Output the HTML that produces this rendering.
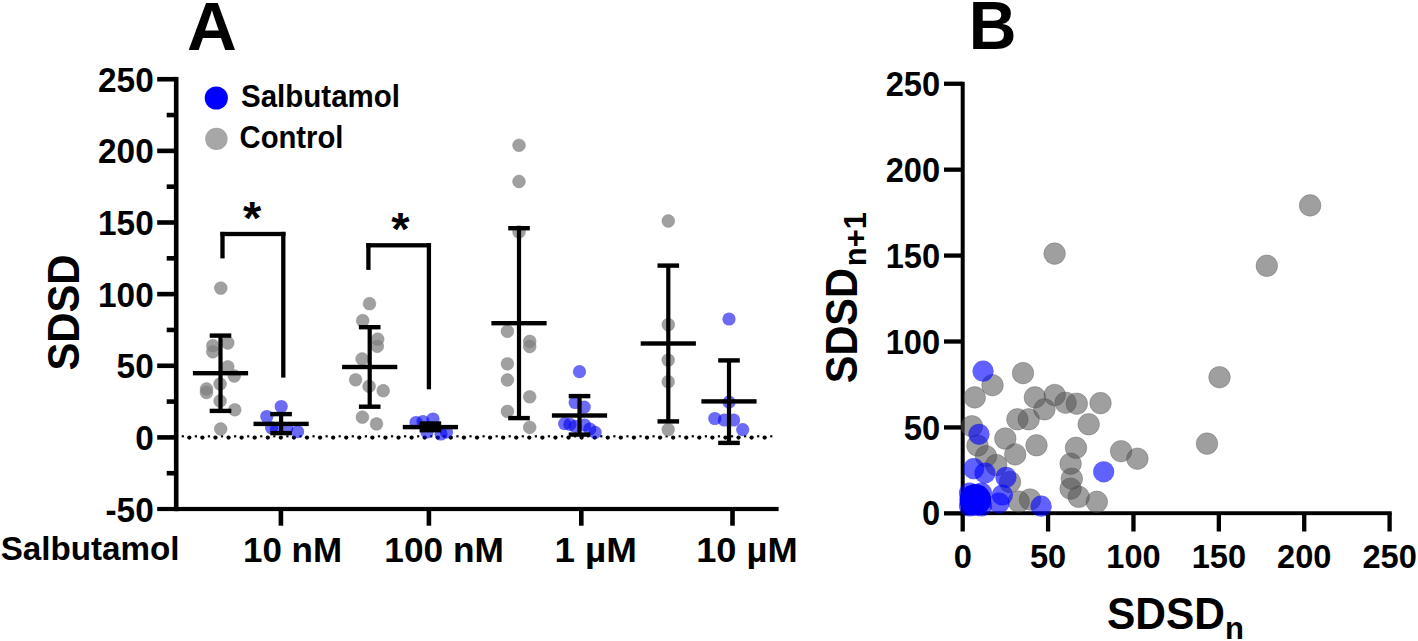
<!DOCTYPE html>
<html><head><meta charset="utf-8"><style>
html,body{margin:0;padding:0;background:#fff;}
svg{display:block;}
</style></head><body>
<svg width="1418" height="641" viewBox="0 0 1418 641">
<rect width="1418" height="641" fill="#fff"/>
<rect x="173.9" y="76.9" width="4.6" height="434.3" fill="#000"/>
<rect x="157.2" y="506.9" width="621.4" height="4.2" fill="#000"/>
<rect x="157.2" y="76.93" width="19" height="4.6" fill="#000"/>
<rect x="157.2" y="148.57" width="19" height="4.6" fill="#000"/>
<rect x="157.2" y="220.20" width="19" height="4.6" fill="#000"/>
<rect x="157.2" y="291.83" width="19" height="4.6" fill="#000"/>
<rect x="157.2" y="363.47" width="19" height="4.6" fill="#000"/>
<rect x="157.2" y="435.10" width="19" height="4.6" fill="#000"/>
<rect x="166.7" y="112.75" width="10" height="4.6" fill="#000"/>
<rect x="166.7" y="184.38" width="10" height="4.6" fill="#000"/>
<rect x="166.7" y="256.02" width="10" height="4.6" fill="#000"/>
<rect x="166.7" y="327.65" width="10" height="4.6" fill="#000"/>
<rect x="166.7" y="399.28" width="10" height="4.6" fill="#000"/>
<rect x="166.7" y="470.92" width="10" height="4.6" fill="#000"/>
<text transform="translate(153.7,91.73) scale(0.94,1)" font-family="Liberation Sans, sans-serif" font-weight="bold" font-size="35.5" text-anchor="end">250</text>
<text transform="translate(153.7,163.37) scale(0.94,1)" font-family="Liberation Sans, sans-serif" font-weight="bold" font-size="35.5" text-anchor="end">200</text>
<text transform="translate(153.7,235.00) scale(0.94,1)" font-family="Liberation Sans, sans-serif" font-weight="bold" font-size="35.5" text-anchor="end">150</text>
<text transform="translate(153.7,306.63) scale(0.94,1)" font-family="Liberation Sans, sans-serif" font-weight="bold" font-size="35.5" text-anchor="end">100</text>
<text transform="translate(153.7,378.27) scale(0.94,1)" font-family="Liberation Sans, sans-serif" font-weight="bold" font-size="35.5" text-anchor="end">50</text>
<text transform="translate(153.7,449.90) scale(0.94,1)" font-family="Liberation Sans, sans-serif" font-weight="bold" font-size="35.5" text-anchor="end">0</text>
<text transform="translate(153.7,521.53) scale(0.94,1)" font-family="Liberation Sans, sans-serif" font-weight="bold" font-size="35.5" text-anchor="end">-50</text>
<rect x="278.60" y="509" width="4.6" height="16.7" fill="#000"/>
<rect x="426.60" y="509" width="4.6" height="16.7" fill="#000"/>
<rect x="579.00" y="509" width="4.6" height="16.7" fill="#000"/>
<rect x="730.20" y="509" width="4.6" height="16.7" fill="#000"/>
<text x="0.7" y="560.3" font-family="Liberation Sans, sans-serif" font-weight="bold" font-size="33.5" textLength="178.8" lengthAdjust="spacingAndGlyphs">Salbutamol</text>
<text x="243" y="562.4" font-family="Liberation Sans, sans-serif" font-weight="bold" font-size="34.5" textLength="99" lengthAdjust="spacingAndGlyphs">10 nM</text>
<text x="384.3" y="562.4" font-family="Liberation Sans, sans-serif" font-weight="bold" font-size="34.5" textLength="119.5" lengthAdjust="spacingAndGlyphs">100 nM</text>
<text x="554.4" y="562.4" font-family="Liberation Sans, sans-serif" font-weight="bold" font-size="34.5" textLength="82.5" lengthAdjust="spacingAndGlyphs">1 µM</text>
<text x="696.2" y="562.4" font-family="Liberation Sans, sans-serif" font-weight="bold" font-size="34.5" textLength="101.5" lengthAdjust="spacingAndGlyphs">10 µM</text>
<text transform="translate(79,370.6) rotate(-90)" x="0" y="0" font-family="Liberation Sans, sans-serif" font-weight="bold" font-size="43.5" textLength="116" lengthAdjust="spacingAndGlyphs">SDSD</text>
<text x="187" y="49.7" font-family="Liberation Sans, sans-serif" font-weight="bold" font-size="69">A</text>
<circle cx="216.3" cy="98" r="11.6" fill="#0000ff"/>
<circle cx="216.4" cy="138.9" r="11.2" fill="#a8a7a8"/>
<text x="241" y="107.3" font-family="Liberation Sans, sans-serif" font-weight="bold" font-size="30.5" textLength="159" lengthAdjust="spacingAndGlyphs">Salbutamol</text>
<text x="239.5" y="148" font-family="Liberation Sans, sans-serif" font-weight="bold" font-size="30.5" textLength="104" lengthAdjust="spacingAndGlyphs">Control</text>
<circle cx="189.30" cy="437.6" r="2.15" fill="#000"/>
<circle cx="202.38" cy="437.6" r="2.15" fill="#000"/>
<circle cx="215.45" cy="437.6" r="2.15" fill="#000"/>
<circle cx="228.53" cy="437.6" r="2.15" fill="#000"/>
<circle cx="241.61" cy="437.6" r="2.15" fill="#000"/>
<circle cx="254.69" cy="437.6" r="2.15" fill="#000"/>
<circle cx="267.76" cy="437.6" r="2.15" fill="#000"/>
<circle cx="280.84" cy="437.6" r="2.15" fill="#000"/>
<circle cx="293.92" cy="437.6" r="2.15" fill="#000"/>
<circle cx="306.99" cy="437.6" r="2.15" fill="#000"/>
<circle cx="320.07" cy="437.6" r="2.15" fill="#000"/>
<circle cx="333.15" cy="437.6" r="2.15" fill="#000"/>
<circle cx="346.22" cy="437.6" r="2.15" fill="#000"/>
<circle cx="359.30" cy="437.6" r="2.15" fill="#000"/>
<circle cx="372.38" cy="437.6" r="2.15" fill="#000"/>
<circle cx="385.46" cy="437.6" r="2.15" fill="#000"/>
<circle cx="398.53" cy="437.6" r="2.15" fill="#000"/>
<circle cx="411.61" cy="437.6" r="2.15" fill="#000"/>
<circle cx="424.69" cy="437.6" r="2.15" fill="#000"/>
<circle cx="437.76" cy="437.6" r="2.15" fill="#000"/>
<circle cx="450.84" cy="437.6" r="2.15" fill="#000"/>
<circle cx="463.92" cy="437.6" r="2.15" fill="#000"/>
<circle cx="476.99" cy="437.6" r="2.15" fill="#000"/>
<circle cx="490.07" cy="437.6" r="2.15" fill="#000"/>
<circle cx="503.15" cy="437.6" r="2.15" fill="#000"/>
<circle cx="516.23" cy="437.6" r="2.15" fill="#000"/>
<circle cx="529.30" cy="437.6" r="2.15" fill="#000"/>
<circle cx="542.38" cy="437.6" r="2.15" fill="#000"/>
<circle cx="555.46" cy="437.6" r="2.15" fill="#000"/>
<circle cx="568.53" cy="437.6" r="2.15" fill="#000"/>
<circle cx="581.61" cy="437.6" r="2.15" fill="#000"/>
<circle cx="594.69" cy="437.6" r="2.15" fill="#000"/>
<circle cx="607.76" cy="437.6" r="2.15" fill="#000"/>
<circle cx="620.84" cy="437.6" r="2.15" fill="#000"/>
<circle cx="633.92" cy="437.6" r="2.15" fill="#000"/>
<circle cx="647.00" cy="437.6" r="2.15" fill="#000"/>
<circle cx="660.07" cy="437.6" r="2.15" fill="#000"/>
<circle cx="673.15" cy="437.6" r="2.15" fill="#000"/>
<circle cx="686.23" cy="437.6" r="2.15" fill="#000"/>
<circle cx="699.30" cy="437.6" r="2.15" fill="#000"/>
<circle cx="712.38" cy="437.6" r="2.15" fill="#000"/>
<circle cx="725.46" cy="437.6" r="2.15" fill="#000"/>
<circle cx="738.53" cy="437.6" r="2.15" fill="#000"/>
<circle cx="751.61" cy="437.6" r="2.15" fill="#000"/>
<circle cx="764.69" cy="437.6" r="2.15" fill="#000"/>
<rect x="181.70" y="435.2" width="2.2" height="2.2" fill="#000"/>
<rect x="194.78" y="435.2" width="2.2" height="2.2" fill="#000"/>
<rect x="207.85" y="435.2" width="2.2" height="2.2" fill="#000"/>
<rect x="220.93" y="435.2" width="2.2" height="2.2" fill="#000"/>
<rect x="234.01" y="435.2" width="2.2" height="2.2" fill="#000"/>
<rect x="247.09" y="435.2" width="2.2" height="2.2" fill="#000"/>
<rect x="260.16" y="435.2" width="2.2" height="2.2" fill="#000"/>
<rect x="273.24" y="435.2" width="2.2" height="2.2" fill="#000"/>
<rect x="286.32" y="435.2" width="2.2" height="2.2" fill="#000"/>
<rect x="299.39" y="435.2" width="2.2" height="2.2" fill="#000"/>
<rect x="312.47" y="435.2" width="2.2" height="2.2" fill="#000"/>
<rect x="325.55" y="435.2" width="2.2" height="2.2" fill="#000"/>
<rect x="338.62" y="435.2" width="2.2" height="2.2" fill="#000"/>
<rect x="351.70" y="435.2" width="2.2" height="2.2" fill="#000"/>
<rect x="364.78" y="435.2" width="2.2" height="2.2" fill="#000"/>
<rect x="377.86" y="435.2" width="2.2" height="2.2" fill="#000"/>
<rect x="390.93" y="435.2" width="2.2" height="2.2" fill="#000"/>
<rect x="404.01" y="435.2" width="2.2" height="2.2" fill="#000"/>
<rect x="417.09" y="435.2" width="2.2" height="2.2" fill="#000"/>
<rect x="430.16" y="435.2" width="2.2" height="2.2" fill="#000"/>
<rect x="443.24" y="435.2" width="2.2" height="2.2" fill="#000"/>
<rect x="456.32" y="435.2" width="2.2" height="2.2" fill="#000"/>
<rect x="469.39" y="435.2" width="2.2" height="2.2" fill="#000"/>
<rect x="482.47" y="435.2" width="2.2" height="2.2" fill="#000"/>
<rect x="495.55" y="435.2" width="2.2" height="2.2" fill="#000"/>
<rect x="508.62" y="435.2" width="2.2" height="2.2" fill="#000"/>
<rect x="521.70" y="435.2" width="2.2" height="2.2" fill="#000"/>
<rect x="534.78" y="435.2" width="2.2" height="2.2" fill="#000"/>
<rect x="547.86" y="435.2" width="2.2" height="2.2" fill="#000"/>
<rect x="560.93" y="435.2" width="2.2" height="2.2" fill="#000"/>
<rect x="574.01" y="435.2" width="2.2" height="2.2" fill="#000"/>
<rect x="587.09" y="435.2" width="2.2" height="2.2" fill="#000"/>
<rect x="600.16" y="435.2" width="2.2" height="2.2" fill="#000"/>
<rect x="613.24" y="435.2" width="2.2" height="2.2" fill="#000"/>
<rect x="626.32" y="435.2" width="2.2" height="2.2" fill="#000"/>
<rect x="639.39" y="435.2" width="2.2" height="2.2" fill="#000"/>
<rect x="652.47" y="435.2" width="2.2" height="2.2" fill="#000"/>
<rect x="665.55" y="435.2" width="2.2" height="2.2" fill="#000"/>
<rect x="678.63" y="435.2" width="2.2" height="2.2" fill="#000"/>
<rect x="691.70" y="435.2" width="2.2" height="2.2" fill="#000"/>
<rect x="704.78" y="435.2" width="2.2" height="2.2" fill="#000"/>
<rect x="717.86" y="435.2" width="2.2" height="2.2" fill="#000"/>
<rect x="730.93" y="435.2" width="2.2" height="2.2" fill="#000"/>
<rect x="744.01" y="435.2" width="2.2" height="2.2" fill="#000"/>
<rect x="757.09" y="435.2" width="2.2" height="2.2" fill="#000"/>
<rect x="770.17" y="435.2" width="2.2" height="2.2" fill="#000"/>
<circle cx="220.8" cy="288.1" r="6.4" fill="#808080" fill-opacity="0.75" stroke="#808080" stroke-opacity="0.5" stroke-width="0.8"/>
<circle cx="227.8" cy="343" r="6.4" fill="#808080" fill-opacity="0.75" stroke="#808080" stroke-opacity="0.5" stroke-width="0.8"/>
<circle cx="212.8" cy="345.7" r="6.4" fill="#808080" fill-opacity="0.75" stroke="#808080" stroke-opacity="0.5" stroke-width="0.8"/>
<circle cx="212.8" cy="351.8" r="6.4" fill="#808080" fill-opacity="0.75" stroke="#808080" stroke-opacity="0.5" stroke-width="0.8"/>
<circle cx="227.8" cy="366.8" r="6.4" fill="#808080" fill-opacity="0.75" stroke="#808080" stroke-opacity="0.5" stroke-width="0.8"/>
<circle cx="234.3" cy="376" r="6.4" fill="#808080" fill-opacity="0.75" stroke="#808080" stroke-opacity="0.5" stroke-width="0.8"/>
<circle cx="220.1" cy="384" r="6.4" fill="#808080" fill-opacity="0.75" stroke="#808080" stroke-opacity="0.5" stroke-width="0.8"/>
<circle cx="206.5" cy="389" r="6.4" fill="#808080" fill-opacity="0.75" stroke="#808080" stroke-opacity="0.5" stroke-width="0.8"/>
<circle cx="206.5" cy="392.5" r="6.4" fill="#808080" fill-opacity="0.75" stroke="#808080" stroke-opacity="0.5" stroke-width="0.8"/>
<circle cx="220.1" cy="401" r="6.4" fill="#808080" fill-opacity="0.75" stroke="#808080" stroke-opacity="0.5" stroke-width="0.8"/>
<circle cx="234.8" cy="409.8" r="6.4" fill="#808080" fill-opacity="0.75" stroke="#808080" stroke-opacity="0.5" stroke-width="0.8"/>
<circle cx="220.7" cy="429" r="6.4" fill="#808080" fill-opacity="0.75" stroke="#808080" stroke-opacity="0.5" stroke-width="0.8"/>
<circle cx="281.2" cy="406.5" r="6.6" fill="#0000f0" fill-opacity="0.58"/>
<circle cx="266.8" cy="416.5" r="6.6" fill="#0000f0" fill-opacity="0.58"/>
<circle cx="271.5" cy="427.8" r="6.6" fill="#0000f0" fill-opacity="0.58"/>
<circle cx="276.5" cy="428.5" r="6.6" fill="#0000f0" fill-opacity="0.58"/>
<circle cx="286.7" cy="428.5" r="6.6" fill="#0000f0" fill-opacity="0.58"/>
<circle cx="297.6" cy="431.7" r="6.6" fill="#0000f0" fill-opacity="0.58"/>
<circle cx="369.5" cy="303.7" r="6.4" fill="#808080" fill-opacity="0.75" stroke="#808080" stroke-opacity="0.5" stroke-width="0.8"/>
<circle cx="362.7" cy="320.6" r="6.4" fill="#808080" fill-opacity="0.75" stroke="#808080" stroke-opacity="0.5" stroke-width="0.8"/>
<circle cx="377.7" cy="339.2" r="6.4" fill="#808080" fill-opacity="0.75" stroke="#808080" stroke-opacity="0.5" stroke-width="0.8"/>
<circle cx="377.3" cy="346.3" r="6.4" fill="#808080" fill-opacity="0.75" stroke="#808080" stroke-opacity="0.5" stroke-width="0.8"/>
<circle cx="362.1" cy="359" r="6.4" fill="#808080" fill-opacity="0.75" stroke="#808080" stroke-opacity="0.5" stroke-width="0.8"/>
<circle cx="355.6" cy="379.8" r="6.4" fill="#808080" fill-opacity="0.75" stroke="#808080" stroke-opacity="0.5" stroke-width="0.8"/>
<circle cx="369.1" cy="386.3" r="6.4" fill="#808080" fill-opacity="0.75" stroke="#808080" stroke-opacity="0.5" stroke-width="0.8"/>
<circle cx="383.2" cy="390.7" r="6.4" fill="#808080" fill-opacity="0.75" stroke="#808080" stroke-opacity="0.5" stroke-width="0.8"/>
<circle cx="362.4" cy="417.2" r="6.4" fill="#808080" fill-opacity="0.75" stroke="#808080" stroke-opacity="0.5" stroke-width="0.8"/>
<circle cx="376.5" cy="423.9" r="6.4" fill="#808080" fill-opacity="0.75" stroke="#808080" stroke-opacity="0.5" stroke-width="0.8"/>
<circle cx="416" cy="422.5" r="6.6" fill="#0000f0" fill-opacity="0.58"/>
<circle cx="423" cy="421.5" r="6.6" fill="#0000f0" fill-opacity="0.58"/>
<circle cx="433" cy="419" r="6.6" fill="#0000f0" fill-opacity="0.58"/>
<circle cx="427" cy="432" r="6.6" fill="#0000f0" fill-opacity="0.58"/>
<circle cx="441" cy="434" r="6.6" fill="#0000f0" fill-opacity="0.58"/>
<circle cx="446.5" cy="432" r="6.6" fill="#0000f0" fill-opacity="0.58"/>
<circle cx="519" cy="145.3" r="6.4" fill="#808080" fill-opacity="0.75" stroke="#808080" stroke-opacity="0.5" stroke-width="0.8"/>
<circle cx="519" cy="181.5" r="6.4" fill="#808080" fill-opacity="0.75" stroke="#808080" stroke-opacity="0.5" stroke-width="0.8"/>
<circle cx="519" cy="232" r="6.4" fill="#808080" fill-opacity="0.75" stroke="#808080" stroke-opacity="0.5" stroke-width="0.8"/>
<circle cx="507.4" cy="331.3" r="6.4" fill="#808080" fill-opacity="0.75" stroke="#808080" stroke-opacity="0.5" stroke-width="0.8"/>
<circle cx="529.7" cy="341.4" r="6.4" fill="#808080" fill-opacity="0.75" stroke="#808080" stroke-opacity="0.5" stroke-width="0.8"/>
<circle cx="529.7" cy="346.5" r="6.4" fill="#808080" fill-opacity="0.75" stroke="#808080" stroke-opacity="0.5" stroke-width="0.8"/>
<circle cx="507.4" cy="363.8" r="6.4" fill="#808080" fill-opacity="0.75" stroke="#808080" stroke-opacity="0.5" stroke-width="0.8"/>
<circle cx="507.4" cy="380" r="6.4" fill="#808080" fill-opacity="0.75" stroke="#808080" stroke-opacity="0.5" stroke-width="0.8"/>
<circle cx="529.7" cy="396.8" r="6.4" fill="#808080" fill-opacity="0.75" stroke="#808080" stroke-opacity="0.5" stroke-width="0.8"/>
<circle cx="507.4" cy="411.4" r="6.4" fill="#808080" fill-opacity="0.75" stroke="#808080" stroke-opacity="0.5" stroke-width="0.8"/>
<circle cx="529.7" cy="427.3" r="6.4" fill="#808080" fill-opacity="0.75" stroke="#808080" stroke-opacity="0.5" stroke-width="0.8"/>
<circle cx="579.5" cy="371.7" r="6.6" fill="#0000f0" fill-opacity="0.58"/>
<circle cx="575.2" cy="402.5" r="6.6" fill="#0000f0" fill-opacity="0.58"/>
<circle cx="584.2" cy="407.1" r="6.6" fill="#0000f0" fill-opacity="0.58"/>
<circle cx="564.6" cy="423.7" r="6.6" fill="#0000f0" fill-opacity="0.58"/>
<circle cx="569.9" cy="424.4" r="6.6" fill="#0000f0" fill-opacity="0.58"/>
<circle cx="575.2" cy="426.4" r="6.6" fill="#0000f0" fill-opacity="0.58"/>
<circle cx="584.5" cy="425" r="6.6" fill="#0000f0" fill-opacity="0.58"/>
<circle cx="589.8" cy="429" r="6.6" fill="#0000f0" fill-opacity="0.58"/>
<circle cx="595.1" cy="432.3" r="6.6" fill="#0000f0" fill-opacity="0.58"/>
<circle cx="668.3" cy="221" r="6.4" fill="#808080" fill-opacity="0.75" stroke="#808080" stroke-opacity="0.5" stroke-width="0.8"/>
<circle cx="668.3" cy="324.6" r="6.4" fill="#808080" fill-opacity="0.75" stroke="#808080" stroke-opacity="0.5" stroke-width="0.8"/>
<circle cx="668.2" cy="360.1" r="6.4" fill="#808080" fill-opacity="0.75" stroke="#808080" stroke-opacity="0.5" stroke-width="0.8"/>
<circle cx="668.2" cy="381.7" r="6.4" fill="#808080" fill-opacity="0.75" stroke="#808080" stroke-opacity="0.5" stroke-width="0.8"/>
<circle cx="668.2" cy="429.6" r="6.4" fill="#808080" fill-opacity="0.75" stroke="#808080" stroke-opacity="0.5" stroke-width="0.8"/>
<circle cx="729" cy="319" r="6.6" fill="#0000f0" fill-opacity="0.58"/>
<circle cx="729" cy="402.2" r="6.6" fill="#0000f0" fill-opacity="0.58"/>
<circle cx="714.8" cy="418.5" r="6.6" fill="#0000f0" fill-opacity="0.58"/>
<circle cx="724.4" cy="420" r="6.6" fill="#0000f0" fill-opacity="0.58"/>
<circle cx="733.6" cy="420" r="6.6" fill="#0000f0" fill-opacity="0.58"/>
<circle cx="742.7" cy="429.6" r="6.6" fill="#0000f0" fill-opacity="0.58"/>
<rect x="218.40" y="335.60" width="4.2" height="75.30" fill="#000"/>
<rect x="209.70" y="333.40" width="21.6" height="4.4" fill="#000"/>
<rect x="209.70" y="408.70" width="21.6" height="4.4" fill="#000"/>
<rect x="192.90" y="371.00" width="55.2" height="4.4" fill="#000"/>
<rect x="279.00" y="414.10" width="4.2" height="19.00" fill="#000"/>
<rect x="270.30" y="411.90" width="21.6" height="4.4" fill="#000"/>
<rect x="270.30" y="430.90" width="21.6" height="4.4" fill="#000"/>
<rect x="253.50" y="421.70" width="55.2" height="4.4" fill="#000"/>
<rect x="367.60" y="327.20" width="4.2" height="79.50" fill="#000"/>
<rect x="358.90" y="325.00" width="21.6" height="4.4" fill="#000"/>
<rect x="358.90" y="404.50" width="21.6" height="4.4" fill="#000"/>
<rect x="342.10" y="364.80" width="55.2" height="4.4" fill="#000"/>
<rect x="428.30" y="423.50" width="4.2" height="6.70" fill="#000"/>
<rect x="419.60" y="421.30" width="21.6" height="4.4" fill="#000"/>
<rect x="419.60" y="428.00" width="21.6" height="4.4" fill="#000"/>
<rect x="402.80" y="424.90" width="55.2" height="4.4" fill="#000"/>
<rect x="516.90" y="228.20" width="4.2" height="189.90" fill="#000"/>
<rect x="508.20" y="226.00" width="21.6" height="4.4" fill="#000"/>
<rect x="508.20" y="415.90" width="21.6" height="4.4" fill="#000"/>
<rect x="491.40" y="321.00" width="55.2" height="4.4" fill="#000"/>
<rect x="577.40" y="396.10" width="4.2" height="38.50" fill="#000"/>
<rect x="568.70" y="393.90" width="21.6" height="4.4" fill="#000"/>
<rect x="568.70" y="432.40" width="21.6" height="4.4" fill="#000"/>
<rect x="551.90" y="413.30" width="55.2" height="4.4" fill="#000"/>
<rect x="666.20" y="265.60" width="4.2" height="155.80" fill="#000"/>
<rect x="657.50" y="263.40" width="21.6" height="4.4" fill="#000"/>
<rect x="657.50" y="419.20" width="21.6" height="4.4" fill="#000"/>
<rect x="640.70" y="341.30" width="55.2" height="4.4" fill="#000"/>
<rect x="726.90" y="360.40" width="4.2" height="82.50" fill="#000"/>
<rect x="718.20" y="358.20" width="21.6" height="4.4" fill="#000"/>
<rect x="718.20" y="440.70" width="21.6" height="4.4" fill="#000"/>
<rect x="701.40" y="399.20" width="55.2" height="4.4" fill="#000"/>
<rect x="220.35" y="231.85" width="65.10" height="4.3" fill="#000"/>
<rect x="220.35" y="231.85" width="4.3" height="26.55" fill="#000"/>
<rect x="281.15" y="231.85" width="4.3" height="145.75" fill="#000"/>
<text x="252.2" y="233.5" font-family="Liberation Sans, sans-serif" font-weight="bold" font-size="47" text-anchor="middle">*</text>
<rect x="366.25" y="243.15" width="64.80" height="4.3" fill="#000"/>
<rect x="366.25" y="243.15" width="4.3" height="26.75" fill="#000"/>
<rect x="426.75" y="243.15" width="4.3" height="146.15" fill="#000"/>
<text x="400.3" y="244.9" font-family="Liberation Sans, sans-serif" font-weight="bold" font-size="47" text-anchor="middle">*</text>
<rect x="960.7" y="81.7" width="4.0" height="433.5" fill="#000"/>
<rect x="960.7" y="511.25" width="431.0" height="3.9" fill="#000"/>
<rect x="944.0" y="81.60" width="18" height="4.3" fill="#000"/>
<text transform="translate(940.1,95.85) scale(0.955,1)" font-family="Liberation Sans, sans-serif" font-weight="bold" font-size="34.2" text-anchor="end">250</text>
<rect x="944.0" y="167.52" width="18" height="4.3" fill="#000"/>
<text transform="translate(940.1,181.77) scale(0.955,1)" font-family="Liberation Sans, sans-serif" font-weight="bold" font-size="34.2" text-anchor="end">200</text>
<rect x="944.0" y="253.44" width="18" height="4.3" fill="#000"/>
<text transform="translate(940.1,267.69) scale(0.955,1)" font-family="Liberation Sans, sans-serif" font-weight="bold" font-size="34.2" text-anchor="end">150</text>
<rect x="944.0" y="339.36" width="18" height="4.3" fill="#000"/>
<text transform="translate(940.1,353.61) scale(0.955,1)" font-family="Liberation Sans, sans-serif" font-weight="bold" font-size="34.2" text-anchor="end">100</text>
<rect x="944.0" y="425.28" width="18" height="4.3" fill="#000"/>
<text transform="translate(940.1,439.53) scale(0.955,1)" font-family="Liberation Sans, sans-serif" font-weight="bold" font-size="34.2" text-anchor="end">50</text>
<rect x="944.0" y="511.20" width="18" height="4.3" fill="#000"/>
<text transform="translate(940.1,525.45) scale(0.955,1)" font-family="Liberation Sans, sans-serif" font-weight="bold" font-size="34.2" text-anchor="end">0</text>
<rect x="960.55" y="513" width="4.3" height="18.5" fill="#000"/>
<text x="962.70" y="568.4" font-family="Liberation Sans, sans-serif" font-weight="bold" font-size="32.6" text-anchor="middle">0</text>
<rect x="1045.93" y="513" width="4.3" height="18.5" fill="#000"/>
<text x="1048.08" y="568.4" font-family="Liberation Sans, sans-serif" font-weight="bold" font-size="32.6" text-anchor="middle">50</text>
<rect x="1131.31" y="513" width="4.3" height="18.5" fill="#000"/>
<text x="1133.46" y="568.4" font-family="Liberation Sans, sans-serif" font-weight="bold" font-size="32.6" text-anchor="middle">100</text>
<rect x="1216.69" y="513" width="4.3" height="18.5" fill="#000"/>
<text x="1218.84" y="568.4" font-family="Liberation Sans, sans-serif" font-weight="bold" font-size="32.6" text-anchor="middle">150</text>
<rect x="1302.07" y="513" width="4.3" height="18.5" fill="#000"/>
<text x="1304.22" y="568.4" font-family="Liberation Sans, sans-serif" font-weight="bold" font-size="32.6" text-anchor="middle">200</text>
<rect x="1387.45" y="513" width="4.3" height="18.5" fill="#000"/>
<text x="1389.60" y="568.4" font-family="Liberation Sans, sans-serif" font-weight="bold" font-size="32.6" text-anchor="middle">250</text>
<circle cx="992.5" cy="385.2" r="10.8" fill="#505050" fill-opacity="0.55" stroke="#505050" stroke-opacity="0.4" stroke-width="0.8"/>
<circle cx="974.7" cy="397.4" r="10.8" fill="#505050" fill-opacity="0.55" stroke="#505050" stroke-opacity="0.4" stroke-width="0.8"/>
<circle cx="1023" cy="373.1" r="10.8" fill="#505050" fill-opacity="0.55" stroke="#505050" stroke-opacity="0.4" stroke-width="0.8"/>
<circle cx="1034.9" cy="397.4" r="10.8" fill="#505050" fill-opacity="0.55" stroke="#505050" stroke-opacity="0.4" stroke-width="0.8"/>
<circle cx="1017.4" cy="419.3" r="10.8" fill="#505050" fill-opacity="0.55" stroke="#505050" stroke-opacity="0.4" stroke-width="0.8"/>
<circle cx="1028.7" cy="419.3" r="10.8" fill="#505050" fill-opacity="0.55" stroke="#505050" stroke-opacity="0.4" stroke-width="0.8"/>
<circle cx="971.9" cy="426.2" r="10.8" fill="#505050" fill-opacity="0.55" stroke="#505050" stroke-opacity="0.4" stroke-width="0.8"/>
<circle cx="1054.7" cy="395" r="10.8" fill="#505050" fill-opacity="0.55" stroke="#505050" stroke-opacity="0.4" stroke-width="0.8"/>
<circle cx="1065.6" cy="402.7" r="10.8" fill="#505050" fill-opacity="0.55" stroke="#505050" stroke-opacity="0.4" stroke-width="0.8"/>
<circle cx="1076.8" cy="403.7" r="10.8" fill="#505050" fill-opacity="0.55" stroke="#505050" stroke-opacity="0.4" stroke-width="0.8"/>
<circle cx="1100.5" cy="403.1" r="10.8" fill="#505050" fill-opacity="0.55" stroke="#505050" stroke-opacity="0.4" stroke-width="0.8"/>
<circle cx="1044.4" cy="409.3" r="10.8" fill="#505050" fill-opacity="0.55" stroke="#505050" stroke-opacity="0.4" stroke-width="0.8"/>
<circle cx="1088.7" cy="424.3" r="10.8" fill="#505050" fill-opacity="0.55" stroke="#505050" stroke-opacity="0.4" stroke-width="0.8"/>
<circle cx="1036.5" cy="445.3" r="10.8" fill="#505050" fill-opacity="0.55" stroke="#505050" stroke-opacity="0.4" stroke-width="0.8"/>
<circle cx="1076" cy="447.8" r="10.8" fill="#505050" fill-opacity="0.55" stroke="#505050" stroke-opacity="0.4" stroke-width="0.8"/>
<circle cx="1121.1" cy="451.2" r="10.8" fill="#505050" fill-opacity="0.55" stroke="#505050" stroke-opacity="0.4" stroke-width="0.8"/>
<circle cx="1137.4" cy="458.7" r="10.8" fill="#505050" fill-opacity="0.55" stroke="#505050" stroke-opacity="0.4" stroke-width="0.8"/>
<circle cx="977.5" cy="445.5" r="10.8" fill="#505050" fill-opacity="0.55" stroke="#505050" stroke-opacity="0.4" stroke-width="0.8"/>
<circle cx="986" cy="456.2" r="10.8" fill="#505050" fill-opacity="0.55" stroke="#505050" stroke-opacity="0.4" stroke-width="0.8"/>
<circle cx="996.2" cy="465" r="10.8" fill="#505050" fill-opacity="0.55" stroke="#505050" stroke-opacity="0.4" stroke-width="0.8"/>
<circle cx="1005.3" cy="438.5" r="10.8" fill="#505050" fill-opacity="0.55" stroke="#505050" stroke-opacity="0.4" stroke-width="0.8"/>
<circle cx="1015.2" cy="454.4" r="10.8" fill="#505050" fill-opacity="0.55" stroke="#505050" stroke-opacity="0.4" stroke-width="0.8"/>
<circle cx="1010" cy="482" r="10.8" fill="#505050" fill-opacity="0.55" stroke="#505050" stroke-opacity="0.4" stroke-width="0.8"/>
<circle cx="1018.7" cy="501.5" r="10.8" fill="#505050" fill-opacity="0.55" stroke="#505050" stroke-opacity="0.4" stroke-width="0.8"/>
<circle cx="1030" cy="499.5" r="10.8" fill="#505050" fill-opacity="0.55" stroke="#505050" stroke-opacity="0.4" stroke-width="0.8"/>
<circle cx="1070.6" cy="463.7" r="10.8" fill="#505050" fill-opacity="0.55" stroke="#505050" stroke-opacity="0.4" stroke-width="0.8"/>
<circle cx="1071.8" cy="478.7" r="10.8" fill="#505050" fill-opacity="0.55" stroke="#505050" stroke-opacity="0.4" stroke-width="0.8"/>
<circle cx="1070.6" cy="488.7" r="10.8" fill="#505050" fill-opacity="0.55" stroke="#505050" stroke-opacity="0.4" stroke-width="0.8"/>
<circle cx="1078.7" cy="496.8" r="10.8" fill="#505050" fill-opacity="0.55" stroke="#505050" stroke-opacity="0.4" stroke-width="0.8"/>
<circle cx="1096.8" cy="501.8" r="10.8" fill="#505050" fill-opacity="0.55" stroke="#505050" stroke-opacity="0.4" stroke-width="0.8"/>
<circle cx="1054.6" cy="253.6" r="10.8" fill="#505050" fill-opacity="0.55" stroke="#505050" stroke-opacity="0.4" stroke-width="0.8"/>
<circle cx="1310.1" cy="205.4" r="10.8" fill="#505050" fill-opacity="0.55" stroke="#505050" stroke-opacity="0.4" stroke-width="0.8"/>
<circle cx="1266.8" cy="265.8" r="10.8" fill="#505050" fill-opacity="0.55" stroke="#505050" stroke-opacity="0.4" stroke-width="0.8"/>
<circle cx="1219.5" cy="377.2" r="10.8" fill="#505050" fill-opacity="0.55" stroke="#505050" stroke-opacity="0.4" stroke-width="0.8"/>
<circle cx="1207" cy="443.6" r="10.8" fill="#505050" fill-opacity="0.55" stroke="#505050" stroke-opacity="0.4" stroke-width="0.8"/>
<circle cx="975.3" cy="499.8" r="15.8" fill="#0000ff"/>
<circle cx="983.1" cy="371.2" r="10.6" fill="#0000ff" fill-opacity="0.62"/>
<circle cx="979" cy="434.3" r="10.6" fill="#0000ff" fill-opacity="0.62"/>
<circle cx="1103.7" cy="471.8" r="10.6" fill="#0000ff" fill-opacity="0.62"/>
<circle cx="1041.1" cy="506.2" r="10.6" fill="#0000ff" fill-opacity="0.62"/>
<circle cx="973.7" cy="468.7" r="10.6" fill="#0000ff" fill-opacity="0.62"/>
<circle cx="985" cy="473.1" r="10.6" fill="#0000ff" fill-opacity="0.62"/>
<circle cx="1006" cy="477.3" r="10.6" fill="#0000ff" fill-opacity="0.62"/>
<circle cx="1002.4" cy="495" r="10.6" fill="#0000ff" fill-opacity="0.62"/>
<circle cx="999" cy="503" r="10.6" fill="#0000ff" fill-opacity="0.62"/>
<circle cx="969.5" cy="493" r="10.6" fill="#0000ff" fill-opacity="0.62"/>
<circle cx="981.5" cy="493" r="10.6" fill="#0000ff" fill-opacity="0.62"/>
<circle cx="969.5" cy="506" r="10.6" fill="#0000ff" fill-opacity="0.62"/>
<circle cx="981.5" cy="506" r="10.6" fill="#0000ff" fill-opacity="0.62"/>
<circle cx="975.5" cy="499" r="10.6" fill="#0000ff" fill-opacity="0.62"/>
<text transform="translate(968.8,48.9) scale(0.965,1)" font-family="Liberation Sans, sans-serif" font-weight="bold" font-size="68.5">B</text>
<text x="1107" y="629" font-family="Liberation Sans, sans-serif" font-weight="bold" font-size="43.5" textLength="118" lengthAdjust="spacingAndGlyphs">SDSD</text>
<text x="1225" y="638.5" font-family="Liberation Sans, sans-serif" font-weight="bold" font-size="31">n</text>
<g transform="translate(857,383.2) rotate(-90)"><text x="0" y="0" font-family="Liberation Sans, sans-serif" font-weight="bold" font-size="43.5" textLength="115" lengthAdjust="spacingAndGlyphs">SDSD</text><text x="117" y="9.3" font-family="Liberation Sans, sans-serif" font-weight="bold" font-size="31">n+1</text></g>
</svg></body></html>
